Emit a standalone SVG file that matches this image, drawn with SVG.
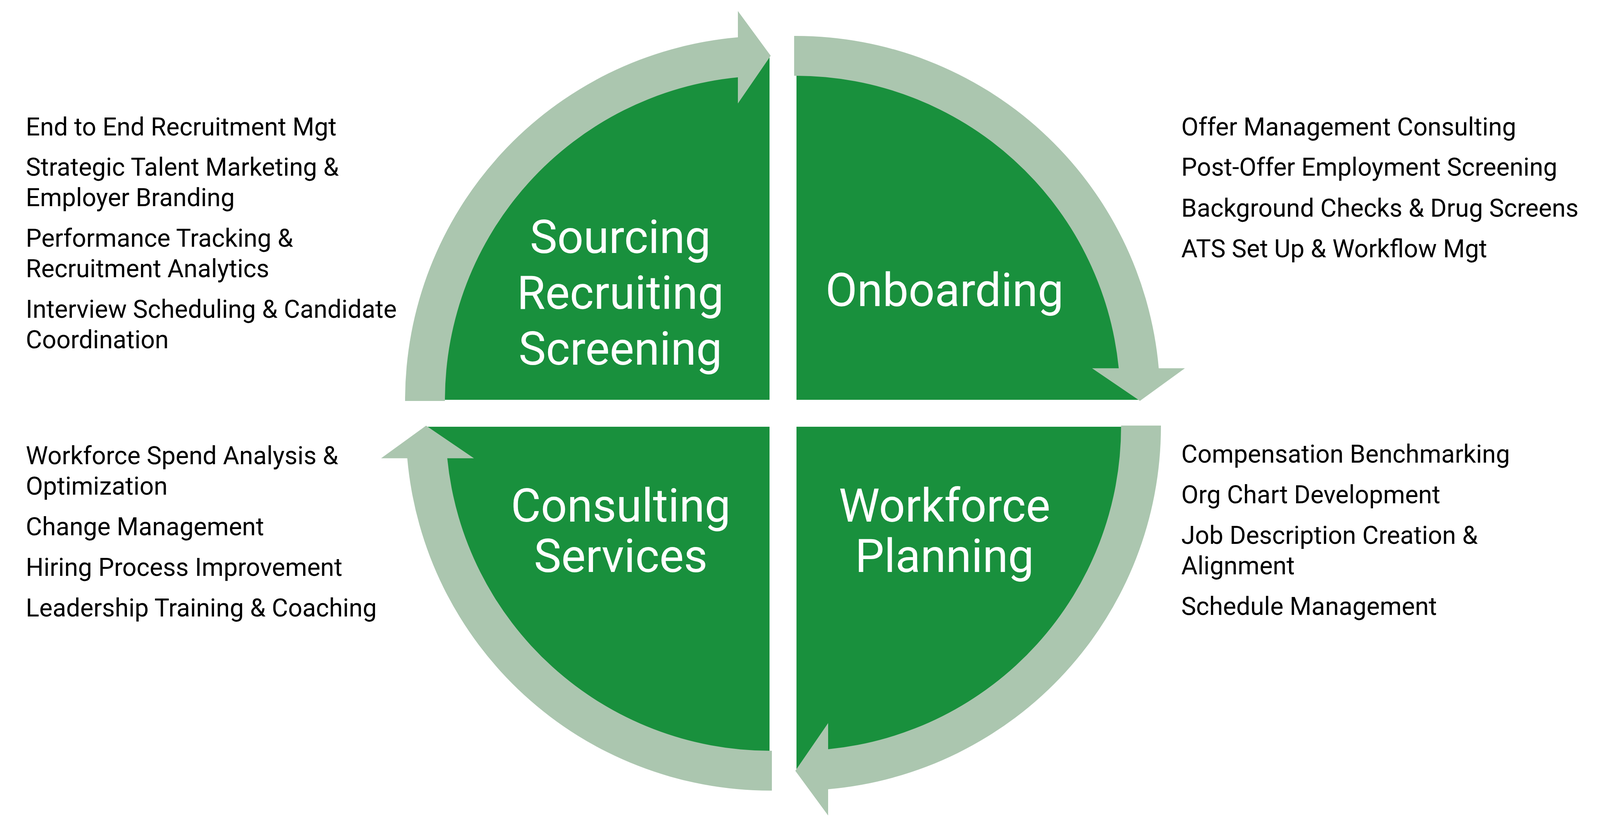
<svg xmlns="http://www.w3.org/2000/svg" width="4129" height="2131" viewBox="0 0 4129 2131">
  <style>
    .quad { fill: #19903D; }
    .band { fill: #ABC6AF; }
    .title { font-family: Roboto, "Liberation Sans", sans-serif; font-size: 118px; fill: #FFFFFF; text-anchor: middle; }
    .item { font-family: Roboto, "Liberation Sans", sans-serif; font-size: 64px; fill: #000000; }
  </style>
  <defs>
    <path id="arc-a" d="M1037,1027 L1037,1025 A933,933 0 0 1 1889,95.5 L1889,28.3 L1973,142.7 L1889,265 L1889,198 A831,831 0 0 0 1139,1025 L1139,1027 Z"/>
    <path id="arc-b" d="M2033,92 L2037,92 A933,933 0 0 1 2966.4,943.3 L3033.3,943.3 L2918.3,1026.7 L2795.7,943.3 L2864,943.3 A831,831 0 0 0 2037,194 L2033,194 Z"/>
  </defs>
  <rect x="0" y="0" width="4129" height="2131" fill="#FFFFFF"/>

  <g id="node-sourcing">
    <path class="quad" d="M1970,1024 L1088,1024 A882,882 0 0 1 1970,142 Z"/>
    <text class="title"><tspan x="1588" y="648">Sourcing</tspan><tspan x="1588" y="791">Recruiting</tspan><tspan x="1588" y="934">Screening</tspan></text>
  </g>
  <g id="node-onboarding">
    <path class="quad" d="M2039,1024 L2039,142 A882,882 0 0 1 2921,1024 Z"/>
    <text class="title" x="2418" y="784">Onboarding</text>
  </g>
  <g id="node-workforce">
    <path class="quad" d="M2039,1093 L2921,1093 A882,882 0 0 1 2039,1975 Z"/>
    <text class="title"><tspan x="2418" y="1336">Workforce</tspan><tspan x="2418" y="1465">Planning</tspan></text>
  </g>
  <g id="node-consulting">
    <path class="quad" d="M1970,1093 L1970,1975 A882,882 0 0 1 1088,1093 Z"/>
    <text class="title"><tspan x="1589" y="1336">Consulting</tspan><tspan x="1589" y="1465">Services</tspan></text>
  </g>

  <g id="connectors">
    <use id="arrow-tl" class="band" href="#arc-a"/>
    <use id="arrow-tr" class="band" href="#arc-b"/>
    <use id="arrow-br" class="band" href="#arc-a" transform="rotate(180 2004.5 1058.5)"/>
    <use id="arrow-bl" class="band" href="#arc-b" transform="rotate(180 2004.5 1058.5)"/>
  </g>

  <g id="list-sourcing">
    <text class="item" x="66" y="347">End to End Recruitment Mgt</text>
    <text class="item" x="66" y="450">Strategic Talent Marketing &amp;</text>
    <text class="item" x="66" y="528">Employer Branding</text>
    <text class="item" x="66" y="632">Performance Tracking &amp;</text>
    <text class="item" x="66" y="710">Recruitment Analytics</text>
    <text class="item" x="66" y="814">Interview Scheduling &amp; Candidate</text>
    <text class="item" x="66" y="892">Coordination</text>
  </g>
  <g id="list-onboarding">
    <text class="item" x="3024" y="347">Offer Management Consulting</text>
    <text class="item" x="3024" y="450">Post-Offer Employment Screening</text>
    <text class="item" x="3024" y="555">Background Checks &amp; Drug Screens</text>
    <text class="item" x="3024" y="659">ATS Set Up &amp; Workflow Mgt</text>
  </g>
  <g id="list-consulting">
    <text class="item" x="66" y="1189">Workforce Spend Analysis &amp;</text>
    <text class="item" x="66" y="1267">Optimization</text>
    <text class="item" x="66" y="1371">Change Management</text>
    <text class="item" x="66" y="1475">Hiring Process Improvement</text>
    <text class="item" x="66" y="1579">Leadership Training &amp; Coaching</text>
  </g>
  <g id="list-workforce">
    <text class="item" x="3024" y="1185">Compensation Benchmarking</text>
    <text class="item" x="3024" y="1289">Org Chart Development</text>
    <text class="item" x="3024" y="1393">Job Description Creation &amp;</text>
    <text class="item" x="3024" y="1471">Alignment</text>
    <text class="item" x="3024" y="1575">Schedule Management</text>
  </g>
</svg>
